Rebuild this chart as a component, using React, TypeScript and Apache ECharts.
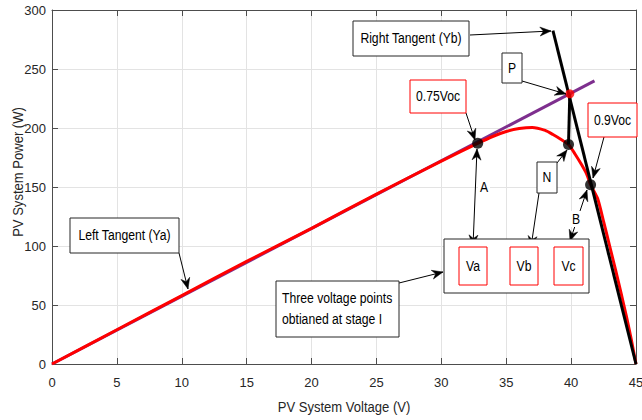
import React, { useEffect, useRef } from "react";
import * as echarts from "echarts";

// ---- data ----
const X_TICKS = [0, 5, 10, 15, 20, 25, 30, 35, 40, 45];
const Y_TICKS = [0, 50, 100, 150, 200, 250, 300];

const pvVoltage = [0, 5, 10, 15, 20, 25, 30, 32.8, 34, 35, 36, 37, 38, 38.6, 39.2, 39.8, 40.3, 40.8, 41.2, 41.5, 42.05, 42.52, 42.97, 43.42, 43.85, 44.27, 44.65, 45];
const pvPower = [0, 29, 58, 87, 115, 144, 172, 187, 193, 197, 199.5, 200.5, 198, 194.5, 190.5, 186, 178, 169, 161, 152, 140, 120, 100, 80, 60, 40, 20, 0];

const leftTangentV = [0, 41.8];
const leftTangentP = [0, 240];

const rightTangentV = [38.6, 45];
const rightTangentP = [282.5, 0];

const stepV = [39.8, 39.9];
const stepP = [186, 229];

const keyPointV = [32.8, 39.8, 41.5];
const keyPointP = [187, 186, 152];

const pointPV = [39.9];
const pointPP = [229];

const X_NAME = "PV System Voltage (V)";
const Y_NAME = "PV System Power (W)";

const FONT = "'Liberation Sans', Arial, sans-serif";
const AXIS_COLOR = "#4d4d4d";
const TEXT_COLOR = "#262626";
const NARROW = 0.87;

const zip = (a: number[], b: number[]) => a.map((v, i) => [v, b[i]]);

function arrowHead(tx: number, ty: number, fx: number, fy: number) {
  const dx = tx - fx;
  const dy = ty - fy;
  const len = Math.hypot(dx, dy) || 1;
  const ux = dx / len;
  const uy = dy / len;
  const px = -uy;
  const py = ux;
  const L = 11;
  const W = 4.5;
  const N = 3.5;
  const bx = tx - ux * L;
  const by = ty - uy * L;
  return {
    type: "polygon",
    z: 20,
    shape: {
      points: [
        [tx, ty],
        [bx + px * W, by + py * W],
        [tx - ux * (L - N), ty - uy * (L - N)],
        [bx - px * W, by - py * W],
      ],
    },
    style: { fill: "#000", stroke: "#000", lineWidth: 0.5 },
  };
}

function arrow(x1: number, y1: number, x2: number, y2: number, both = false) {
  const els: any[] = [
    {
      type: "line",
      z: 19,
      shape: { x1, y1, x2, y2 },
      style: { stroke: "#000", lineWidth: 1 },
    },
    arrowHead(x2, y2, x1, y1),
  ];
  if (both) els.push(arrowHead(x1, y1, x2, y2));
  return els;
}

function txt(x: number, y: number, text: string, align = "center", size = 14, color = "#000", rotation = 0) {
  return {
    type: "text",
    z: 22,
    x,
    y,
    rotation,
    scaleX: NARROW,
    style: { text, fill: color, fontSize: size, fontFamily: FONT, align, verticalAlign: "middle" },
  };
}

function box(x: number, y: number, w: number, h: number, text: string, red = false) {
  const els: any[] = [
    {
      type: "rect",
      z: 21,
      shape: { x, y, width: w, height: h },
      style: { fill: "#fff", stroke: red ? "#ff0000" : "#262626", lineWidth: 1 },
    },
  ];
  if (text) els.push(txt(x + w / 2, y + h / 2, text));
  return els;
}

function label(x: number, y: number, text: string) {
  return [
    {
      type: "rect",
      z: 21,
      shape: { x: x - 6, y: y - 8, width: 12, height: 16 },
      style: { fill: "#fff" },
    },
    txt(x, y, text),
  ];
}

function buildGraphics() {
  return [
    // arrows
    ...arrow(179, 253, 188, 289),
    ...arrow(470, 35, 551, 31),
    ...arrow(522, 81, 566, 94),
    ...arrow(466, 113, 475, 140),
    ...arrow(604, 137, 593, 178),
    ...arrow(557, 163, 567, 150),
    ...arrow(539, 193, 531, 247),
    ...arrow(477, 149, 473, 246, true),
    ...arrow(587, 190, 570, 241, true),
    ...arrow(399, 283, 443, 272),
    // labels on the arrows
    ...label(484, 187, "A"),
    ...label(576, 219, "B"),
    // boxes
    ...box(70, 218, 109, 35, "Left Tangent (Ya)"),
    ...box(353, 21, 116, 35, "Right Tangent (Yb)"),
    ...box(502, 53, 20, 30, "P"),
    ...box(410, 80, 56, 33, "0.75Voc", true),
    ...box(588, 103, 49, 34, "0.9Voc", true),
    ...box(537, 162, 20, 31, "N"),
    ...box(444, 239, 145, 54, ""),
    ...box(459, 247, 28, 38, "Va", true),
    ...box(510, 247, 28, 38, "Vb", true),
    ...box(554, 247, 29, 38, "Vc", true),
    ...box(276, 281, 123, 56, ""),
    txt(282, 298, "Three voltage points", "left"),
    txt(282, 319, "obtianed at stage I", "left"),
    // axis names
    txt(344, 407, X_NAME, "center", 15, TEXT_COLOR),
    txt(18, 172, Y_NAME, "center", 15, TEXT_COLOR, Math.PI / 2),
  ];
}

function baseAxis(extra: any) {
  return {
    axisLine: { show: true, onZero: false, lineStyle: { color: AXIS_COLOR, width: 1 } },
    axisTick: { show: true, inside: true, length: 6, lineStyle: { color: AXIS_COLOR } },
    ...extra,
  };
}

export default function App() {
  const ref = useRef<HTMLDivElement>(null);
  useEffect(() => {
    if (!ref.current) return;
    const chart = echarts.init(ref.current, null, { renderer: "svg" });
    const option: any = {
      animation: false,
      backgroundColor: "#fff",
      grid: { left: 52, right: 6, top: 10, bottom: 56, containLabel: false, outerBoundsMode: "none" },
      xAxis: [
        baseAxis({
          type: "value",
          min: X_TICKS[0],
          max: X_TICKS[X_TICKS.length - 1],
          interval: 5,
          position: "bottom",
          axisLabel: { fontSize: 13, fontFamily: FONT, color: TEXT_COLOR, margin: 12 },
          splitLine: { show: true, lineStyle: { color: "#e3e3e3", width: 1 } },
        }),
        baseAxis({
          type: "value",
          min: X_TICKS[0],
          max: X_TICKS[X_TICKS.length - 1],
          interval: 5,
          position: "top",
          axisLabel: { show: false },
          splitLine: { show: false },
        }),
      ],
      yAxis: [
        baseAxis({
          type: "value",
          min: Y_TICKS[0],
          max: Y_TICKS[Y_TICKS.length - 1],
          interval: 50,
          position: "left",
          axisLabel: { fontSize: 13, fontFamily: FONT, color: TEXT_COLOR, margin: 6 },
          splitLine: { show: true, lineStyle: { color: "#e3e3e3", width: 1 } },
        }),
        baseAxis({
          type: "value",
          min: Y_TICKS[0],
          max: Y_TICKS[Y_TICKS.length - 1],
          interval: 50,
          position: "right",
          axisLabel: { show: false },
          splitLine: { show: false },
        }),
      ],
      series: [
        {
          type: "line",
          name: "Left Tangent (Ya)",
          data: zip(leftTangentV, leftTangentP),
          showSymbol: false,
          lineStyle: { color: "#7e2f8e", width: 3 },
          z: 2,
        },
        {
          type: "line",
          name: "P-V curve",
          data: zip(pvVoltage, pvPower),
          smooth: 0.2,
          showSymbol: false,
          lineStyle: { color: "#ff0000", width: 3 },
          z: 3,
        },
        {
          type: "line",
          name: "Right Tangent (Yb)",
          data: zip(rightTangentV, rightTangentP),
          showSymbol: false,
          lineStyle: { color: "#000", width: 3 },
          z: 4,
        },
        {
          type: "line",
          name: "N-P",
          data: zip(stepV, stepP),
          showSymbol: false,
          lineStyle: { color: "#000", width: 3 },
          z: 4,
        },
        {
          type: "scatter",
          name: "points",
          data: zip(keyPointV, keyPointP),
          symbol: "circle",
          symbolSize: 11,
          itemStyle: { color: "#000" },
          z: 5,
        },
        {
          type: "scatter",
          name: "P",
          data: zip(pointPV, pointPP),
          symbol: "circle",
          symbolSize: 9,
          itemStyle: { color: "#ff0000" },
          z: 5,
        },
      ],
      graphic: buildGraphics(),
    };
    chart.setOption(option);
    return () => chart.dispose();
  }, []);
  return <div ref={ref} style={{ position: "fixed", left: 0, top: 0, width: 642, height: 420 }} />;
}
